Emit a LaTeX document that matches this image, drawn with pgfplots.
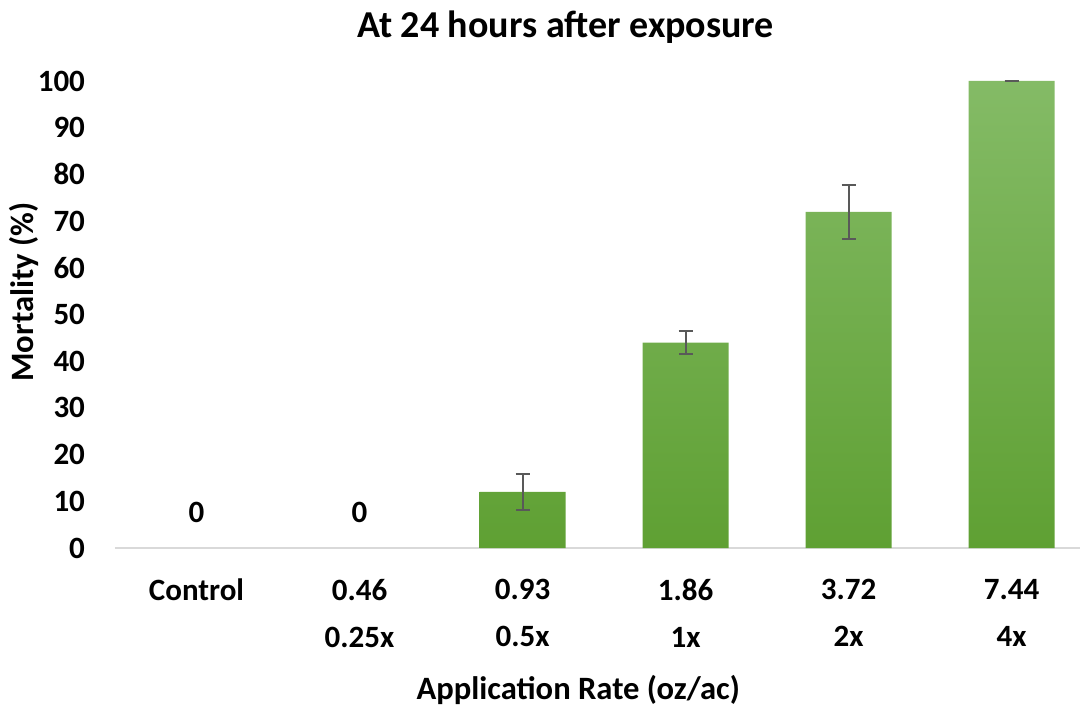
\documentclass[border=0pt]{standalone}
\usepackage{pgfplots}
\pgfplotsset{compat=1.18}
\usepackage{fontspec}
\setmainfont{Carlito}
\definecolor{bartop}{HTML}{84BB66}
\definecolor{barbot}{HTML}{5FA033}
\definecolor{errgray}{HTML}{595959}
\definecolor{axgray}{HTML}{D9D9D9}
\newcommand{\tickfont}{\fontsize{15.5}{23.5}\selectfont\bfseries}
\begin{document}
\begin{tikzpicture}
\begin{axis}[
    scale only axis,
    width=482.5pt, height=233.5pt,
    ymin=0, ymax=100,
    xmin=-0.5, xmax=5.42,
    ytick={0,10,...,100},
    xtick={0,1,2,3,4,5},
    xticklabels={Control\\\strut, 0.46\\0.25x, 0.93\\0.5x, 1.86\\1x, 3.72\\2x, 7.44\\4x},
    xticklabel style={align=center, font=\tickfont, yshift=-12pt},
    yticklabel style={font=\tickfont, xshift=-11.5pt},
    /pgf/number format/assume math mode=true,
    major tick length=0pt,
    axis line style={draw=none},
    axis x line*=bottom,
    axis y line*=left,
    title={\fontsize{19}{22}\selectfont\bfseries At 24 hours after exposure},
    title style={at={(axis description cs:0.467,1.09)}, anchor=center},
    xlabel={\fontsize{16.3}{19}\selectfont\bfseries Application Rate (oz/ac)},
    xlabel style={at={(axis description cs:0.48,-0.304)}, anchor=center},
    ylabel={\fontsize{16.3}{19}\selectfont\bfseries Mortality (\%)},
    ylabel style={at={(axis description cs:-0.0943,0.548)}, anchor=center},
    clip=false,
]
\draw[axgray, line width=1pt] (axis cs:-0.5,0) -- (axis cs:5.42,0);
\addplot[ybar, bar width=43pt, bar shift=0pt, draw=none, shading=axis, top color=bartop, bottom color=barbot,
    error bars/.cd, y dir=both, y explicit,
    error bar style={errgray, line width=1pt},
    error mark options={errgray, line width=1pt, mark size=3.5pt, rotate=90}]
  coordinates {
    (2,12) +- (0,3.8)
    (3,44) +- (0,2.5)
    (4,72) +- (0,5.8)
    (5,100) +- (0,0)
  };
\addplot[draw=none, mark=none, nodes near coords,
    nodes near coords style={font=\tickfont, yshift=9pt},
    point meta=explicit symbolic]
  coordinates {(0,0) [0] (1,0) [0]};
\end{axis}
\pgfresetboundingbox
\path (-57.5pt,-79.5pt) rectangle (483pt,274pt);
\end{tikzpicture}
\end{document}
